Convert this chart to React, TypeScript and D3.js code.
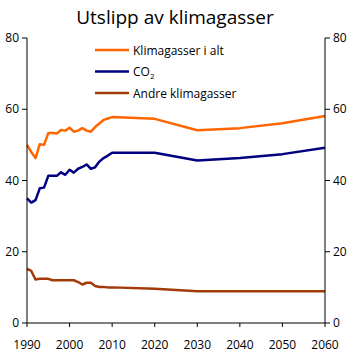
import React from "react";
import * as d3 from "d3";

const years = [1990,1991,1992,1993,1994,1995,1996,1997,1998,1999,2000,2001,2002,2003,2004,2005,2006,2007,2008,2009,2010,2020,2030,2040,2050,2060];
const totalValues = [50,48,46.3,50.2,50,53.3,53.3,53.2,54.2,54,54.8,53.7,54,54.7,54,53.7,55,56,57,57.4,57.8,57.3,54.1,54.7,56.1,58.1];
const co2Values = [35,33.8,34.5,37.8,38,41.3,41.3,41.3,42.3,41.6,43,42.2,43.3,43.8,44.5,43.3,43.7,45.3,46.3,47,47.8,47.8,45.6,46.3,47.4,49.2];
const otherValues = [15.2,14.6,12.2,12.4,12.4,12.4,12,12,12,12,12,12,11.5,10.8,11.3,11.3,10.4,10.1,10.1,10,10,9.6,8.9,8.9,8.9,8.9];
const xTicks = [1990,2000,2010,2020,2030,2040,2050,2060];
const yTicks = [0,20,40,60,80];
const seriesNames = ["Klimagasser i alt", "CO2", "Andre klimagasser"];
const colors = ["#FF6600", "#000080", "#A33A0A"];

export default function App() {
  const W = 350, H = 354;
  const left = 27, right = 325, top = 38, bottom = 323;
  const x = d3.scaleLinear().domain([1990, 2060]).range([left, right]);
  const y = d3.scaleLinear().domain([0, 80]).range([bottom, top]);
  const line = d3.line<number>().x((_, i) => x(years[i])).y(d => y(d));
  const all = [totalValues, co2Values, otherValues];
  const font = "'Open Sans', 'DejaVu Sans', sans-serif";
  return (
    <svg width={W} height={H} style={{ position: "absolute", left: 0, top: 0 }} fontFamily={font}>
      <rect width={W} height={H} fill="#fff" />
      <text x={175} y={24} textAnchor="middle" fontSize={19} fill="#000">Utslipp av klimagasser</text>
      {all.map((vals, i) => (
        <path key={i} d={line(vals) || ""} fill="none" stroke={colors[i]} strokeWidth={2.5} strokeLinejoin="round" />
      ))}
      <line x1={left} x2={left} y1={top} y2={bottom} stroke="#000" strokeWidth={1} />
      <line x1={right} x2={right} y1={top} y2={bottom} stroke="#000" strokeWidth={1} />
      <line x1={left} x2={right} y1={bottom} y2={bottom} stroke="#000" strokeWidth={1} />
      {yTicks.map(t => (
        <g key={t}>
          <line x1={left - 5} x2={left} y1={y(t)} y2={y(t)} stroke="#000" />
          <line x1={right} x2={right + 5} y1={y(t)} y2={y(t)} stroke="#000" />
          <text x={left - 8} y={y(t) + 4} textAnchor="end" fontSize={12}>{t}</text>
          <text x={right + 8} y={y(t) + 4} textAnchor="start" fontSize={12}>{t}</text>
        </g>
      ))}
      {xTicks.map(t => (
        <g key={t}>
          <line x1={x(t)} x2={x(t)} y1={bottom} y2={bottom + 4} stroke="#000" />
          <text x={x(t)} y={bottom + 26} textAnchor="middle" fontSize={12}>{t}</text>
        </g>
      ))}
      {seriesNames.map((n, i) => (
        <g key={n} transform={`translate(95, ${50 + i * 21.5})`}>
          <line x1={0} x2={34} y1={0} y2={0} stroke={colors[i]} strokeWidth={2.5} />
          <text x={38} y={4.5} fontSize={12}>
            {n === "CO2" ? (<>CO<tspan fontSize={8} dy={3}>2</tspan></>) : n}
          </text>
        </g>
      ))}
    </svg>
  );
}
